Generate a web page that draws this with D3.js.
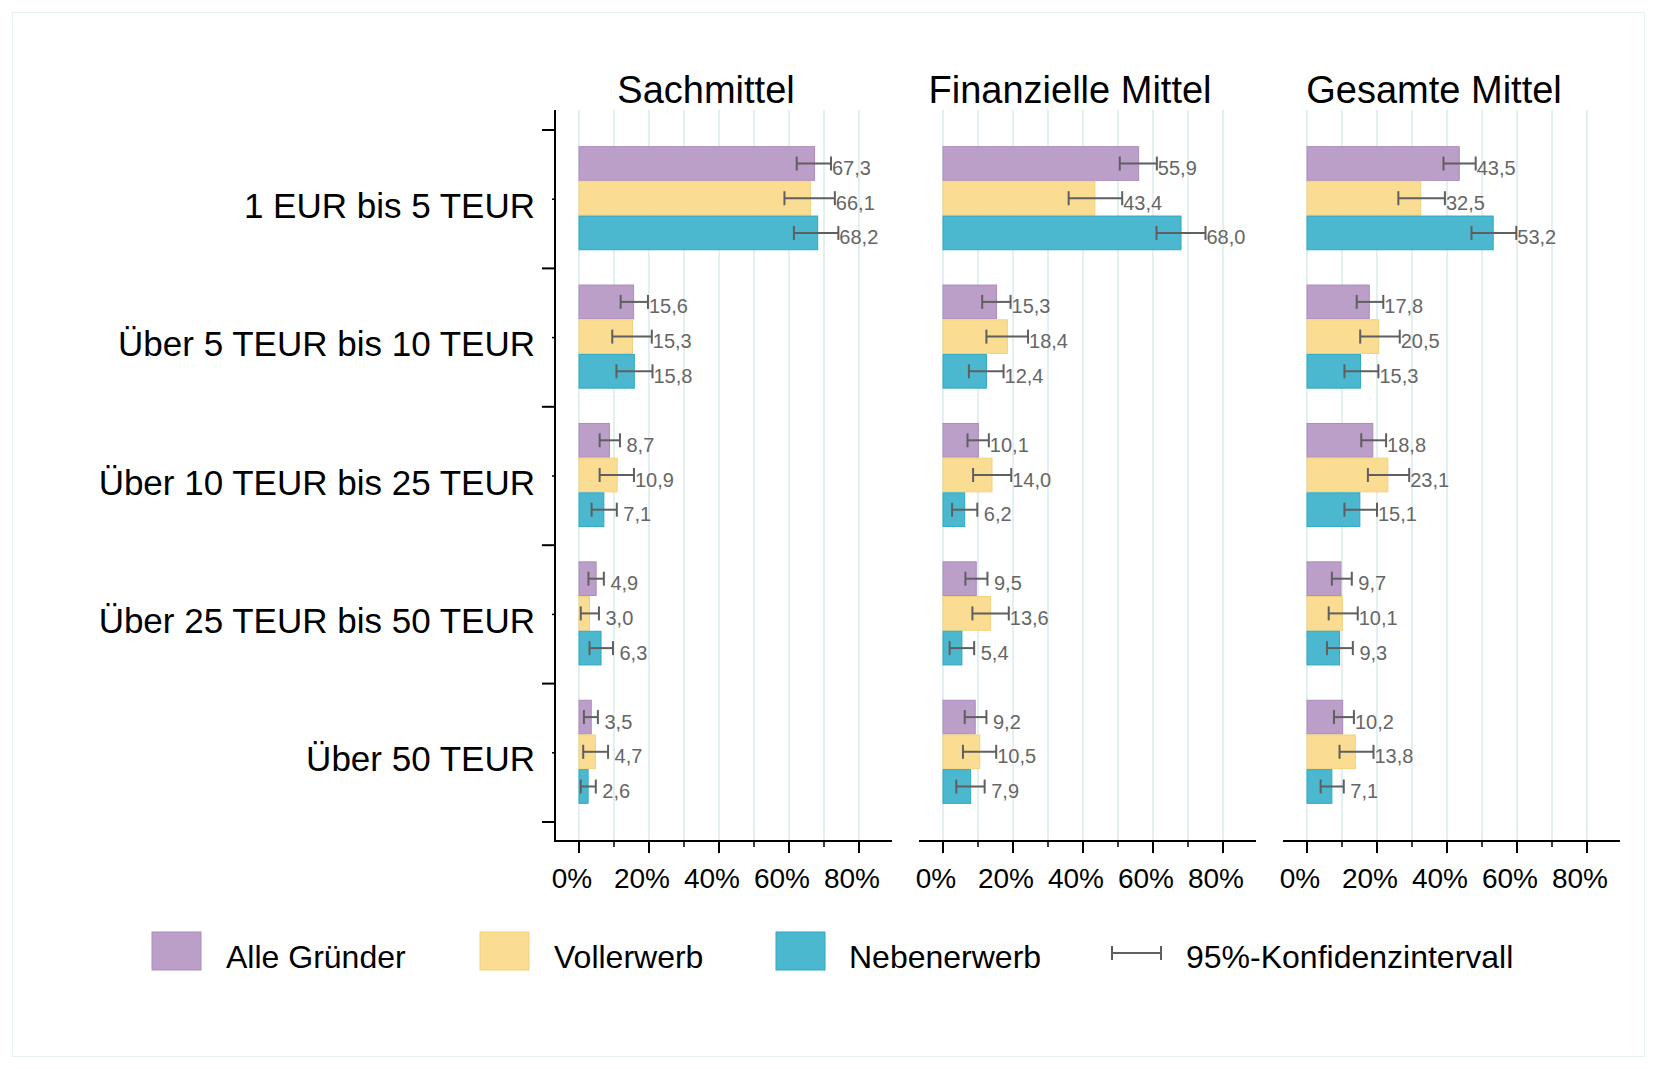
<!DOCTYPE html>
<html>
<head>
<meta charset="utf-8">
<script src="https://cdn.jsdelivr.net/npm/d3@7"></script>
<style>
  html, body { margin: 0; padding: 0; background: #ffffff; }
  svg { display: block; font-family: "Liberation Sans", Arial, Helvetica, sans-serif; }
</style>
</head>
<body>
<svg id="chart" width="1657" height="1069"></svg>
<script>
// ---------------- DATA ----------------
const categories = [
  "1 EUR bis 5 TEUR",
  "Über 5 TEUR bis 10 TEUR",
  "Über 10 TEUR bis 25 TEUR",
  "Über 25 TEUR bis 50 TEUR",
  "Über 50 TEUR"
];
const panelTitles = ["Sachmittel", "Finanzielle Mittel", "Gesamte Mittel"];
const seriesNames = ["Alle Gründer", "Vollerwerb", "Nebenerwerb"];
const ciLegendLabel = "95%-Konfidenzintervall";
const xTickValues = [0, 20, 40, 60, 80];
const xMinorTickValues = [10, 30, 50, 70];
const gridValues = [0, 10, 20, 30, 40, 50, 60, 70, 80];

// Sachmittel: [Alle Gründer, Vollerwerb, Nebenerwerb], per category
const sachmittelValues = [
  [67.3, 15.6, 8.7, 4.9, 3.5],
  [66.1, 15.3, 10.9, 3.0, 4.7],
  [68.2, 15.8, 7.1, 6.3, 2.6]
];
const sachmittelLow = [
  [62.2, 11.9, 5.9, 2.7, 1.4],
  [58.7, 9.5, 5.9, 0.5, 1.2],
  [61.4, 10.7, 3.6, 3.0, 0.5]
];
const sachmittelHigh = [
  [72.0, 19.7, 11.7, 7.1, 5.4],
  [73.1, 20.8, 15.7, 5.7, 8.3],
  [74.1, 21.0, 10.8, 9.7, 4.8]
];

// Finanzielle Mittel
const finanzValues = [
  [55.9, 15.3, 10.1, 9.5, 9.2],
  [43.4, 18.4, 14.0, 13.6, 10.5],
  [68.0, 12.4, 6.2, 5.4, 7.9]
];
const finanzLow = [
  [50.5, 11.2, 7.0, 6.4, 6.2],
  [35.9, 12.4, 8.6, 8.4, 5.7],
  [61.0, 7.4, 2.6, 1.9, 3.8]
];
const finanzHigh = [
  [61.1, 19.3, 13.1, 12.7, 12.4],
  [51.2, 24.3, 19.5, 18.8, 15.2],
  [75.0, 17.3, 9.8, 8.9, 11.9]
];

// Gesamte Mittel
const gesamtValues = [
  [43.5, 17.8, 18.8, 9.7, 10.2],
  [32.5, 20.5, 23.1, 10.1, 13.8],
  [53.2, 15.3, 15.1, 9.3, 7.1]
];
const gesamtLow = [
  [39.0, 14.2, 15.5, 7.1, 7.7],
  [26.1, 15.2, 17.4, 6.2, 9.3],
  [47.0, 10.7, 10.7, 5.7, 3.9]
];
const gesamtHigh = [
  [48.2, 21.8, 22.6, 12.8, 13.4],
  [39.4, 26.5, 29.2, 14.5, 19.0],
  [59.8, 20.4, 20.0, 13.1, 10.5]
];

const panelValues = [sachmittelValues, finanzValues, gesamtValues];
const panelLow = [sachmittelLow, finanzLow, gesamtLow];
const panelHigh = [sachmittelHigh, finanzHigh, gesamtHigh];

// ---------------- STYLE ----------------
const fillColors = ["#bc9fc8", "#fadc92", "#4bb8d0"];
const strokeColors = ["#ab8bbb", "#f3d27c", "#2ea8c4"];
const ciColor = "#5f5f5f";
const gridColor = "#e3eff1";

const svg = d3.select("#chart");

// light outer frame
svg.append("rect")
  .attr("x", 12.5).attr("y", 12.5)
  .attr("width", 1657 - 25).attr("height", 1069 - 25)
  .attr("fill", "none").attr("stroke", "#e9f0f2").attr("stroke-width", 1);

const plotTop = 110, plotBottom = 841;
const bandTop = 130, bandBottom = 822;
const panelZeroX = [579, 943, 1307];
const pxPerUnit = 3.5;

const y = d3.scaleBand().domain(categories).range([bandTop, bandBottom]).padding(0);
const barH = 34.7;
const inner = d3.scaleBand().domain(seriesNames)
  .range([0, barH * 3]).padding(0);

// Stata-like %4.1f: right-justified, so single digits get a leading space
const fmt = v => (v < 10 ? "\u00a0" : "") + d3.format(".1f")(v).replace(".", ",");

// category labels (left)
svg.append("g").selectAll("text").data(categories).join("text")
  .attr("x", 535)
  .attr("y", d => y(d) + y.bandwidth() / 2 + 18.5)
  .attr("text-anchor", "end")
  .attr("font-size", 35)
  .attr("fill", "#000")
  .text(d => d);

// Y axis (only left panel)
const yAxisX = 555;
const yAx = svg.append("g");
yAx.append("line").attr("x1", yAxisX).attr("x2", yAxisX)
  .attr("y1", plotTop).attr("y2", plotBottom + 1)
  .attr("stroke", "#000").attr("stroke-width", 2);
const boundaries = categories.map(c => y(c)).concat([y(categories[categories.length - 1]) + y.bandwidth()]);
yAx.selectAll("line.maj").data(boundaries).join("line").attr("class", "maj")
  .attr("x1", yAxisX - 13).attr("x2", yAxisX)
  .attr("y1", d => d).attr("y2", d => d)
  .attr("stroke", "#000").attr("stroke-width", 2);
yAx.selectAll("line.min").data(categories).join("line").attr("class", "min")
  .attr("x1", yAxisX - 3).attr("x2", yAxisX)
  .attr("y1", d => y(d) + y.bandwidth() / 2).attr("y2", d => y(d) + y.bandwidth() / 2)
  .attr("stroke", "#000").attr("stroke-width", 1.5);

panelTitles.forEach((title, p) => {
  const x0 = panelZeroX[p];
  const x = d3.scaleLinear().domain([0, 80]).range([x0, x0 + 80 * pxPerUnit]);
  const g = svg.append("g");

  // gridlines
  g.selectAll("line.grid").data(gridValues).join("line").attr("class", "grid")
    .attr("x1", d => x(d)).attr("x2", d => x(d))
    .attr("y1", plotTop).attr("y2", plotBottom)
    .attr("stroke", gridColor).attr("stroke-width", 2);

  // title
  g.append("text")
    .attr("x", x(36.3)).attr("y", 103)
    .attr("text-anchor", "middle")
    .attr("font-size", 38).attr("fill", "#000")
    .text(title);

  // bars
  seriesNames.forEach((s, si) => {
    const vals = panelValues[p][si];
    const lo = panelLow[p][si];
    const hi = panelHigh[p][si];
    const rows = categories.map((c, ci) => ({c, v: vals[ci], lo: lo[ci], hi: hi[ci]}));
    const groupOffset = (y.bandwidth() - barH * 3) / 2 - 1;
    const yy = d => y(d.c) + groupOffset + inner(s);

    g.append("g").selectAll("rect").data(rows).join("rect")
      .attr("x", x(0))
      .attr("y", d => yy(d) + 0.5)
      .attr("width", d => x(d.v) - x(0))
      .attr("height", inner.bandwidth() - 1)
      .attr("fill", fillColors[si])
      .attr("stroke", strokeColors[si])
      .attr("stroke-width", 1);

    const eg = g.append("g").attr("stroke", ciColor).attr("stroke-width", 2).attr("fill", "none");
    eg.selectAll("line.h").data(rows).join("line").attr("class", "h")
      .attr("x1", d => x(d.lo)).attr("x2", d => x(d.hi))
      .attr("y1", d => yy(d) + barH / 2).attr("y2", d => yy(d) + barH / 2);
    eg.selectAll("line.l").data(rows).join("line").attr("class", "l")
      .attr("x1", d => x(d.lo)).attr("x2", d => x(d.lo))
      .attr("y1", d => yy(d) + barH / 2 - 7).attr("y2", d => yy(d) + barH / 2 + 7);
    eg.selectAll("line.r").data(rows).join("line").attr("class", "r")
      .attr("x1", d => x(d.hi)).attr("x2", d => x(d.hi))
      .attr("y1", d => yy(d) + barH / 2 - 7).attr("y2", d => yy(d) + barH / 2 + 7);

    g.append("g").selectAll("text").data(rows).join("text")
      .attr("x", d => x(d.hi) + 1)
      .attr("y", d => yy(d) + barH / 2 + 11.5)
      .attr("font-size", 20)
      .attr("fill", "#666666")
      .attr("xml:space", "preserve")
      .text(d => fmt(d.v));
  });

  // x axis
  const ax = svg.append("g");
  ax.append("line")
    .attr("x1", x0 - 24).attr("x2", x0 + 313)
    .attr("y1", plotBottom).attr("y2", plotBottom)
    .attr("stroke", "#000").attr("stroke-width", 2);
  ax.selectAll("line.mt").data(xTickValues).join("line").attr("class", "mt")
    .attr("x1", d => x(d)).attr("x2", d => x(d))
    .attr("y1", plotBottom).attr("y2", plotBottom + 12)
    .attr("stroke", "#000").attr("stroke-width", 2);
  ax.selectAll("line.nt").data(xMinorTickValues).join("line").attr("class", "nt")
    .attr("x1", d => x(d)).attr("x2", d => x(d))
    .attr("y1", plotBottom).attr("y2", plotBottom + 6)
    .attr("stroke", "#000").attr("stroke-width", 1.5);
  ax.selectAll("text").data(xTickValues).join("text")
    .attr("x", d => x(d) - 7)
    .attr("y", 888)
    .attr("text-anchor", "middle")
    .attr("font-size", 28).attr("fill", "#000")
    .text(d => d + "%");
});

// legend
const legend = svg.append("g");
const legendSquareX = [152, 480, 776];
const legendTextX = [226, 554, 849];
seriesNames.forEach((s, i) => {
  legend.append("rect")
    .attr("x", legendSquareX[i]).attr("y", 932)
    .attr("width", 49).attr("height", 38)
    .attr("fill", fillColors[i]).attr("stroke", strokeColors[i]).attr("stroke-width", 1);
  legend.append("text")
    .attr("x", legendTextX[i]).attr("y", 968)
    .attr("font-size", 32).attr("fill", "#000")
    .text(s);
});
const cg = legend.append("g").attr("stroke", ciColor).attr("stroke-width", 2);
cg.append("line").attr("x1", 1112).attr("x2", 1161).attr("y1", 953).attr("y2", 953);
cg.append("line").attr("x1", 1112).attr("x2", 1112).attr("y1", 946).attr("y2", 960);
cg.append("line").attr("x1", 1161).attr("x2", 1161).attr("y1", 946).attr("y2", 960);
legend.append("text")
  .attr("x", 1186).attr("y", 968)
  .attr("font-size", 32).attr("fill", "#000")
  .text(ciLegendLabel);
</script>
</body>
</html>
